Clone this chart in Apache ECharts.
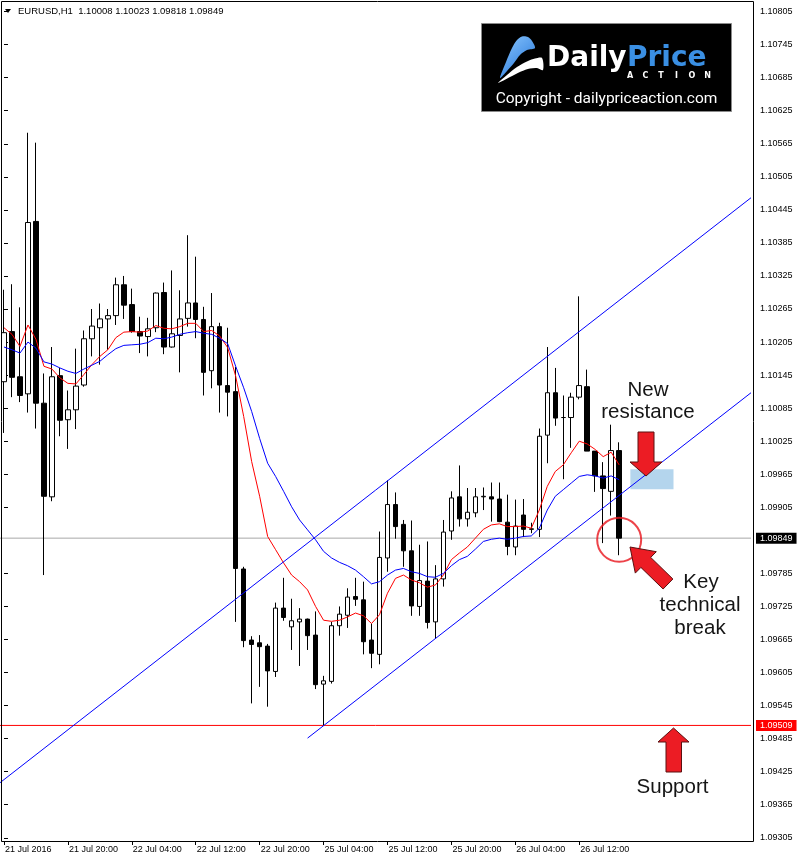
<!DOCTYPE html>
<html>
<head>
<meta charset="utf-8">
<title>EURUSD,H1</title>
<script src="https://cdn.jsdelivr.net/npm/echarts@6.0.0/dist/echarts.min.js"></script>
<style>
  html, body { margin: 0; padding: 0; background: #fff; }
  #main { width: 797px; height: 862px; }
</style>
</head>
<body>
<div id="main"></div>
<script>
// hourly sessions on the chart: day, first hour, last hour (last block is the empty chart shift)
const sessions = [['21 Jul', 12, 23], ['22 Jul', 0, 23], ['25 Jul', 0, 23], ['26 Jul', 0, 23], ['27 Jul', 0, 9]];
const categories = [];
sessions.forEach(([day, h0, h1]) => {
  for (let h = h0; h <= h1; h++) categories.push(day + ' ' + String(h).padStart(2, '0') + ':00');
});

// bottom axis labels
const xTickCats = ['21 Jul 12:00', '21 Jul 20:00', '22 Jul 04:00', '22 Jul 12:00', '22 Jul 20:00',
  '25 Jul 04:00', '25 Jul 12:00', '25 Jul 20:00', '26 Jul 04:00', '26 Jul 12:00'];
const firstLabel = '21 Jul 2016';

// right axis labels
const yTicks = [1.10805, 1.10745, 1.10685, 1.10625, 1.10565, 1.10505, 1.10445, 1.10385, 1.10325,
  1.10265, 1.10205, 1.10145, 1.10085, 1.10025, 1.09965, 1.09905, 1.09785, 1.09725, 1.09665,
  1.09605, 1.09545, 1.09485, 1.09425, 1.09365, 1.09305];

// EURUSD H1 candles
const opens = [1.10133, 1.10224, 1.10142, 1.10111, 1.10424, 1.10094, 1.09924, 1.10144, 1.10064, 1.10082,
  1.10127, 1.10211, 1.10231, 1.10247, 1.10253, 1.10309, 1.10273, 1.10224, 1.10215, 1.10231,
  1.10295, 1.10196, 1.10217, 1.10248, 1.10276, 1.10246, 1.10153, 1.10233, 1.10126, 1.10115,
  1.09793, 1.09664, 1.09659, 1.09653, 1.09607, 1.09722, 1.09688, 1.09697, 1.09702, 1.09673,
  1.09584, 1.09589, 1.09690, 1.09709, 1.09743, 1.09737, 1.09664, 1.09638, 1.09813, 1.09910,
  1.09874, 1.09826, 1.09725, 1.09771, 1.09697, 1.09775, 1.09862, 1.09924, 1.09884, 1.09895,
  1.09924, 1.09924, 1.09920, 1.09878, 1.09833, 1.09891, 1.09865, 1.09865, 1.10036, 1.10113,
  1.10068, 1.10068, 1.10105, 1.10124, 1.10007, 1.09962, 1.09934, 1.10008];
const highs = [1.10300, 1.10310, 1.10268, 1.10585, 1.10567, 1.10148, 1.10196, 1.10158, 1.10117, 1.10193,
  1.10226, 1.10265, 1.10275, 1.10265, 1.10322, 1.10325, 1.10302, 1.10251, 1.10249, 1.10295,
  1.10313, 1.10335, 1.10299, 1.10399, 1.10360, 1.10269, 1.10294, 1.10240, 1.10231, 1.10160,
  1.09797, 1.09671, 1.09673, 1.09657, 1.09732, 1.09777, 1.09739, 1.09722, 1.09703, 1.09716,
  1.09599, 1.09697, 1.09725, 1.09758, 1.09777, 1.09770, 1.09694, 1.09861, 1.09954, 1.09932,
  1.09882, 1.09881, 1.09837, 1.09843, 1.09800, 1.09882, 1.09934, 1.09981, 1.09940, 1.09940,
  1.09941, 1.09950, 1.09950, 1.09928, 1.09919, 1.09920, 1.09877, 1.10048, 1.10196, 1.10158,
  1.10108, 1.10113, 1.10288, 1.10155, 1.10007, 1.09987, 1.10055, 1.10023];
const lows = [1.10040, 1.10105, 1.10096, 1.10077, 1.10048, 1.09782, 1.09916, 1.10034, 1.10011, 1.10047,
  1.10124, 1.10179, 1.10164, 1.10191, 1.10236, 1.10247, 1.10222, 1.10185, 1.10179, 1.10223,
  1.10183, 1.10195, 1.10150, 1.10233, 1.10212, 1.10108, 1.10121, 1.10077, 1.10070, 1.09697,
  1.09651, 1.09549, 1.09579, 1.09543, 1.09597, 1.09699, 1.09646, 1.09617, 1.09646, 1.09575,
  1.09509, 1.09585, 1.09672, 1.09686, 1.09726, 1.09638, 1.09613, 1.09620, 1.09788, 1.09848,
  1.09797, 1.09708, 1.09708, 1.09685, 1.09666, 1.09761, 1.09846, 1.09870, 1.09870, 1.09887,
  1.09900, 1.09879, 1.09878, 1.09818, 1.09818, 1.09851, 1.09858, 1.09851, 1.09985, 1.10053,
  1.09956, 1.10013, 1.10101, 1.10007, 1.09933, 1.09840, 1.09890, 1.09818];
const closes = [1.10222, 1.10141, 1.10108, 1.10422, 1.10094, 1.09925, 1.10142, 1.10063, 1.10082, 1.10125,
  1.10211, 1.10234, 1.10247, 1.10253, 1.10309, 1.10272, 1.10224, 1.10216, 1.10229, 1.10294,
  1.10196, 1.10220, 1.10247, 1.10276, 1.10246, 1.10150, 1.10233, 1.10127, 1.10114, 1.09794,
  1.09663, 1.09656, 1.09652, 1.09608, 1.09722, 1.09705, 1.09699, 1.09702, 1.09672, 1.09583,
  1.09590, 1.09690, 1.09711, 1.09742, 1.09738, 1.09661, 1.09640, 1.09814, 1.09910, 1.09870,
  1.09826, 1.09726, 1.09772, 1.09696, 1.09775, 1.09860, 1.09922, 1.09884, 1.09896, 1.09924,
  1.09925, 1.09920, 1.09879, 1.09834, 1.09871, 1.09865, 1.09866, 1.10034, 1.10113, 1.10067,
  1.10068, 1.10105, 1.10126, 1.10007, 1.09962, 1.09939, 1.10008, 1.09849];

// moving averages
const fastMA = [1.10231, 1.10219, 1.10197, 1.10236, 1.10210, 1.10161, 1.10156, 1.10140, 1.10130, 1.10129,
  1.10146, 1.10164, 1.10179, 1.10191, 1.10213, 1.10223, 1.10224, 1.10223, 1.10225, 1.10235,
  1.10230, 1.10229, 1.10233, 1.10239, 1.10239, 1.10224, 1.10226, 1.10216, 1.10195, 1.10143,
  1.10070, 1.09988, 1.09925, 1.09852, 1.09828, 1.09804, 1.09782, 1.09770, 1.09755, 1.09725,
  1.09700, 1.09698, 1.09700, 1.09706, 1.09713, 1.09708, 1.09694, 1.09710, 1.09749, 1.09776,
  1.09782, 1.09773, 1.09768, 1.09760, 1.09764, 1.09782, 1.09810, 1.09822, 1.09833, 1.09849,
  1.09865, 1.09873, 1.09875, 1.09870, 1.09870, 1.09871, 1.09867, 1.09900, 1.09943, 1.09970,
  1.09982, 1.10004, 1.10025, 1.10020, 1.10010, 1.09997, 1.10005, 1.09982];
const slowMA = [1.10196, 1.10191, 1.10185, 1.10205, 1.10194, 1.10169, 1.10165, 1.10158, 1.10152, 1.10148,
  1.10156, 1.10163, 1.10170, 1.10182, 1.10193, 1.10199, 1.10200, 1.10201, 1.10204, 1.10212,
  1.10211, 1.10214, 1.10219, 1.10222, 1.10224, 1.10221, 1.10219, 1.10212, 1.10202, 1.10161,
  1.10122, 1.10079, 1.10030, 1.09985, 1.09961, 1.09934, 1.09906, 1.09882, 1.09864, 1.09846,
  1.09825, 1.09813, 1.09805, 1.09799, 1.09791, 1.09779, 1.09766, 1.09770, 1.09782, 1.09791,
  1.09794, 1.09788, 1.09785, 1.09779, 1.09778, 1.09785, 1.09799, 1.09810, 1.09816, 1.09829,
  1.09843, 1.09847, 1.09849, 1.09847, 1.09849, 1.09852, 1.09853, 1.09867, 1.09900, 1.09925,
  1.09937, 1.09949, 1.09961, 1.09964, 1.09962, 1.09958, 1.09962, 1.09955];

// channel trendlines [bar index, price]
const upperChannel = [[-0.5, 1.09405], [93.5, 1.10467]];
const lowerChannel = [[38, 1.09486], [93.5, 1.10113]];
const resistanceZone = [[78.4, 1.09974], [83.8, 1.09938]];
const breakPoint = [[77, 1.09846]];
const lastPrice = 1.09849;
const supportPrice = 1.09509;
const xSpan = [-0.5, 93.5];

const candles = opens.map((o, i) => [o, closes[i], lows[i], highs[i]]);

const FONT = 'Liberation Sans, Arial, sans-serif';
const arrowStyle = { fill: '#ec1c24', stroke: '#5b1010', lineWidth: 1 };
const noteStyle = (text, x, y) => ({
  type: 'text', x: x, y: y, z: 110,
  style: { text: text, fill: '#151515', font: '20.5px ' + FONT,
    align: 'center', verticalAlign: 'middle', textAlign: 'center', textVerticalAlign: 'middle' }
});
// horizontal price line across the chart with its price box on the right axis
const priceLineSeries = (value, lineColor, boxColor) => ({
  type: 'line', xAxisIndex: 1, silent: true, z: 1,
  data: xSpan.map(x => [x, value]),
  showSymbol: false,
  lineStyle: { color: lineColor, width: 1 },
  endLabel: {
    show: true, formatter: value.toFixed(5), color: '#fff', backgroundColor: boxColor,
    padding: [1, 4, 1, 4], distance: 5, fontSize: 9, fontFamily: FONT
  }
});

const myChart = echarts.init(document.getElementById('main'), null, { renderer: 'canvas' });
const option = {
  backgroundColor: '#fff',
  animation: false,
  grid: { left: -1, right: 46, top: 0, bottom: 22 },
  xAxis: [
    {
      type: 'category',
      data: categories,
      boundaryGap: true,
      offset: 1,
      axisLine: { show: false },
      axisTick: {
        show: true, length: 4, alignWithLabel: true,
        interval: (idx, val) => xTickCats.includes(val),
        lineStyle: { color: '#000' }
      },
      axisLabel: {
        interval: (idx, val) => xTickCats.includes(val),
        formatter: v => (v === categories[0] ? firstLabel : v),
        align: 'left', margin: 4, padding: [0, 0, 0, 1],
        color: '#000', fontSize: 9, fontFamily: FONT
      },
      splitLine: { show: false }
    },
    { type: 'value', min: xSpan[0], max: xSpan[1], show: false }
  ],
  yAxis: {
    type: 'value',
    position: 'right',
    offset: 2,
    min: 1.09301,
    max: 1.10826,
    axisLine: { show: false },
    axisTick: { show: true, length: 4, customValues: yTicks, lineStyle: { color: '#000' } },
    axisLabel: {
      customValues: yTicks,
      formatter: v => v.toFixed(5),
      margin: 7, color: '#000', fontSize: 9, fontFamily: FONT
    },
    splitLine: { show: false }
  },
  series: [
    priceLineSeries(lastPrice, '#a8a8a8', '#000000'),
    priceLineSeries(supportPrice, '#ff0000', '#ff0000'),
    {
      type: 'candlestick',
      data: candles,
      barWidth: 5,
      itemStyle: { color: '#fff', color0: '#000', borderColor: '#000', borderColor0: '#000', borderWidth: 1 },
      silent: true
    },
    {
      type: 'line', data: fastMA, showSymbol: false, silent: true,
      lineStyle: { color: '#ff0000', width: 1 }
    },
    {
      type: 'line', data: slowMA, showSymbol: false, silent: true,
      lineStyle: { color: '#0000ff', width: 1 }
    },
    {
      type: 'line', xAxisIndex: 1, data: upperChannel, showSymbol: false, silent: true,
      lineStyle: { color: '#0000ff', width: 1 }
    },
    {
      type: 'line', xAxisIndex: 1, data: lowerChannel, showSymbol: false, silent: true,
      lineStyle: { color: '#0000ff', width: 1 },
      markArea: {
        silent: true,
        itemStyle: { color: 'rgba(140,190,228,0.65)' },
        data: [[{ coord: resistanceZone[0] }, { coord: resistanceZone[1] }]]
      }
    },
    {
      type: 'scatter', xAxisIndex: 1, data: breakPoint, silent: true,
      symbol: 'circle', symbolSize: 44, z: 5,
      itemStyle: { color: 'rgba(0,0,0,0)', borderColor: '#e8141c', borderWidth: 2 }
    }
  ],
  graphic: [
    // chart frame
    { type: 'rect', z: 100, silent: true, shape: { x: 1.5, y: 1.5, width: 752, height: 840 },
      style: { fill: 'none', stroke: '#000', lineWidth: 1 } },
    // header
    { type: 'polygon', z: 110, shape: { points: [[5, 9], [11, 9], [8, 13]] }, style: { fill: '#000' } },
    { type: 'text', x: 18, y: 11, z: 110,
      style: { text: 'EURUSD,H1  1.10008 1.10023 1.09818 1.09849', fill: '#000', font: '9.5px ' + FONT,
        verticalAlign: 'middle', textVerticalAlign: 'middle' } },
    // logo
    { type: 'rect', z: 110, shape: { x: 481.5, y: 23.5, width: 250, height: 88 },
      style: { fill: '#000', stroke: '#8a8a8a', lineWidth: 1 } },
    { type: 'polygon', z: 111,
      shape: { smooth: 0.3, points: [[500, 78], [506, 62], [512, 48], [517, 40], [522, 36.5], [528, 37], [532, 41],
        [535, 48], [527, 50], [520, 55], [514, 63], [507, 71]] },
      style: { fill: new echarts.graphic.LinearGradient(0, 0, 1, 1, [{ offset: 0, color: '#8cc8ff' }, { offset: 1, color: '#1d6fd6' }]) } },
    { type: 'polygon', z: 111,
      shape: { smooth: 0.3, points: [[498, 83], [507, 75], [517, 67], [528, 61], [535, 58.5], [542, 58], [543, 70],
        [537, 68], [530, 68.5], [521, 71.5], [510, 77]] },
      style: { fill: '#ffffff' } },
    { type: 'text', x: 547, y: 58.3, z: 111,
      style: { text: 'Daily', fill: '#fff', font: 'bold 28px DejaVu Sans',
        verticalAlign: 'middle', textVerticalAlign: 'middle' } },
    { type: 'text', x: 627, y: 58.3, z: 111,
      style: { text: 'Price', fill: '#3a8fe3', font: 'bold 28px DejaVu Sans',
        verticalAlign: 'middle', textVerticalAlign: 'middle' } },
    ...['A', 'C', 'T', 'I', 'O', 'N'].map((ch, k) => ({
      type: 'text', x: 630 + k * 15.5, y: 75.5, z: 111,
      style: { text: ch, fill: '#fff', font: 'bold 8px DejaVu Sans', align: 'center', textAlign: 'center',
        verticalAlign: 'middle', textVerticalAlign: 'middle' }
    })),
    { type: 'text', x: 606.5, y: 99, z: 111,
      style: { text: 'Copyright - dailypriceaction.com', fill: '#fff', font: '15.5px Roboto',
        align: 'center', textAlign: 'center', verticalAlign: 'middle', textVerticalAlign: 'middle' } },
    // annotations
    noteStyle('New', 648, 390),
    noteStyle('resistance', 648, 412),
    { type: 'polygon', z: 110, shape: { points: [[638, 432], [654, 432], [654, 462], [662, 462], [646, 476], [630, 462], [638, 462]] },
      style: arrowStyle },
    { type: 'polygon', z: 110,
      shape: { points: [[630, 547], [656.3, 551.7], [650.7, 557.4], [672.9, 579], [663.1, 589], [640.9, 567.4], [635.3, 573.1]] },
      style: arrowStyle },
    noteStyle('Key', 701, 582),
    noteStyle('technical', 700, 605),
    noteStyle('break', 700, 628),
    { type: 'polygon', z: 110, shape: { points: [[673.5, 728], [689, 742], [681.5, 742], [681.5, 772], [666, 772], [666, 742], [658, 742]] },
      style: arrowStyle },
    noteStyle('Support', 672.5, 787)
  ]
};
myChart.setOption(option);
window.addEventListener('resize', () => {
  myChart.resize();
});
</script>
</body>
</html>
